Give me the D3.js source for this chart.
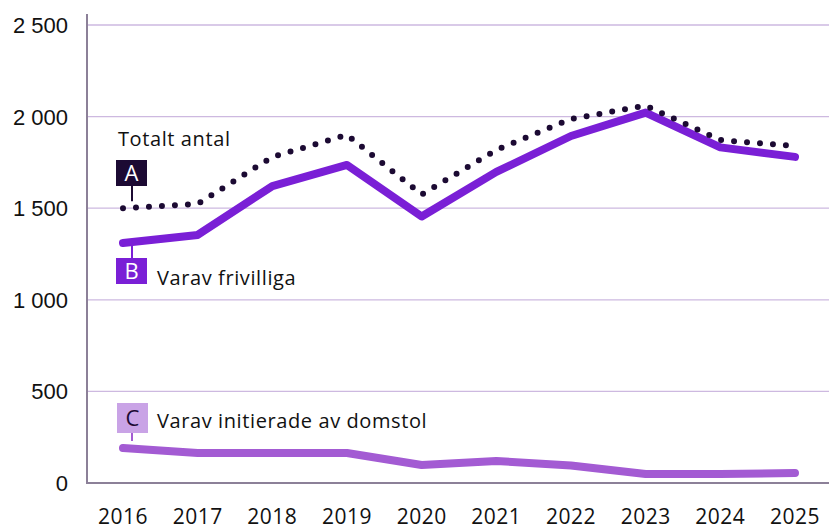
<!DOCTYPE html>
<html>
<head>
<meta charset="utf-8">
<script src="https://cdn.jsdelivr.net/npm/d3@7"></script>
<style>
  body { margin: 0; background: #fff; }
  svg { display: block; }
</style>
</head>
<body>
<div id="chart"></div>
<script>
// data
var years = [2016, 2017, 2018, 2019, 2020, 2021, 2022, 2023, 2024, 2025];
var totalt = [1500, 1523, 1780, 1900, 1575, 1818, 1987, 2060, 1872, 1840];
var frivilliga = [1310, 1354, 1621, 1736, 1455, 1698, 1894, 2022, 1832, 1780];
var domstol = [191, 164, 164, 164, 98, 120, 95, 49, 49, 55];
var yTicks = [0, 500, 1000, 1500, 2000, 2500];

var W = 829, H = 530;
var svg = d3.select("#chart").append("svg")
  .attr("width", W)
  .attr("height", H)

var x = d3.scalePoint()
  .domain(years)
  .range([123, 795])

var y = d3.scaleLinear()
  .domain([0, 2500])
  .range([483, 25])

// grid
svg.append("g")
  .selectAll("line")
  .data(yTicks.filter(function(d){ return d > 0 }))
  .enter()
  .append("line")
    .attr("x1", 87).attr("x2", W)
    .attr("y1", function(d){ return y(d) })
    .attr("y2", function(d){ return y(d) })
    .attr("stroke", "#cdb9e0")
    .attr("stroke-width", 1.3)

// y tick labels
svg.append("g")
  .selectAll("text")
  .data(yTicks)
  .enter()
  .append("text")
    .attr("x", 68)
    .attr("y", function(d){ return y(d) + 8 })
    .attr("text-anchor", "end")
    .style("font-family", "'Liberation Sans', Arial, sans-serif")
    .style("font-size", "22px")
    .attr("fill", "#111")
    .text(function(d){ return d3.format(",")(d).replace(/,/g, " ") })

// axes
svg.append("line")
  .attr("x1", 87).attr("x2", 87).attr("y1", 14).attr("y2", 484)
  .attr("stroke", "#8c8098").attr("stroke-width", 2)
svg.append("line")
  .attr("x1", 86).attr("x2", W).attr("y1", 483).attr("y2", 483)
  .attr("stroke", "#8c8098").attr("stroke-width", 2)

// x labels
svg.append("g")
  .selectAll("text")
  .data(years)
  .enter()
  .append("text")
    .attr("x", function(d){ return x(d) })
    .attr("y", 524)
    .attr("text-anchor", "middle")
    .style("font-family", "'Open Sans', sans-serif")
    .style("font-size", "21px")
    .style("letter-spacing", "0.5px")
    .attr("fill", "#111")
    .text(function(d){ return d })

var line = d3.line()
  .x(function(d, i){ return x(years[i]) })
  .y(function(d){ return y(d) })

// boxes and their texts
var labels = [
  {key: "A", series: totalt, fill: "#1c0a33", txtFill: "#fff", bx: 116, by: 160, h: 26, text: "Totalt antal", tx: 118, ty: 146, lineCol: "#1c0a33"},
  {key: "B", series: frivilliga, fill: "#7a1fd6", txtFill: "#fff", bx: 116, by: 258, h: 26, text: "Varav frivilliga", tx: 157, ty: 285, lineCol: "#7a1fd6"},
  {key: "C", series: domstol, fill: "#c9a3e6", txtFill: "#1c0a33", bx: 117, by: 403, h: 30, text: "Varav initierade av domstol", tx: 157, ty: 428, lineCol: "#a35bd3"}
];

// connectors
labels.forEach(function(l){
  var py = y(l.series[0]);
  svg.append("line")
    .attr("x1", 132).attr("x2", 132)
    .attr("y1", l.by > py ? py : l.by + l.h)
    .attr("y2", l.by > py ? l.by : py - 7)
    .attr("stroke", l.lineCol).attr("stroke-width", 2)
})

// lines
svg.append("path")
  .datum(domstol)
  .attr("d", line)
  .attr("fill", "none")
  .attr("stroke", "#a35bd3")
  .attr("stroke-width", 8)
  .attr("stroke-linecap", "round")
  .attr("stroke-linejoin", "round")

svg.append("path")
  .datum(frivilliga)
  .attr("d", line)
  .attr("fill", "none")
  .attr("stroke", "#7a1fd6")
  .attr("stroke-width", 8)
  .attr("stroke-linecap", "round")
  .attr("stroke-linejoin", "round")

svg.append("path")
  .datum(totalt)
  .attr("d", line)
  .attr("fill", "none")
  .attr("stroke", "#1c0a33")
  .attr("stroke-width", 6)
  .attr("stroke-linecap", "round")
  .attr("stroke-dasharray", "0 13")

labels.forEach(function(l){
  svg.append("rect")
    .attr("x", l.bx).attr("y", l.by)
    .attr("width", 31).attr("height", l.h)
    .attr("fill", l.fill)
  svg.append("text")
    .attr("x", l.bx + 15.5)
    .attr("y", l.by + l.h / 2 + 8)
    .attr("text-anchor", "middle")
    .style("font-family", "'Open Sans', sans-serif")
    .style("font-size", "22px")
    .attr("fill", l.txtFill)
    .text(l.key)
  svg.append("text")
    .attr("x", l.tx).attr("y", l.ty)
    .style("font-family", "'Open Sans', sans-serif")
    .style("font-size", "20px")
    .style("letter-spacing", "0.6px")
    .attr("fill", "#111")
    .text(l.text)
})
</script>
</body>
</html>
